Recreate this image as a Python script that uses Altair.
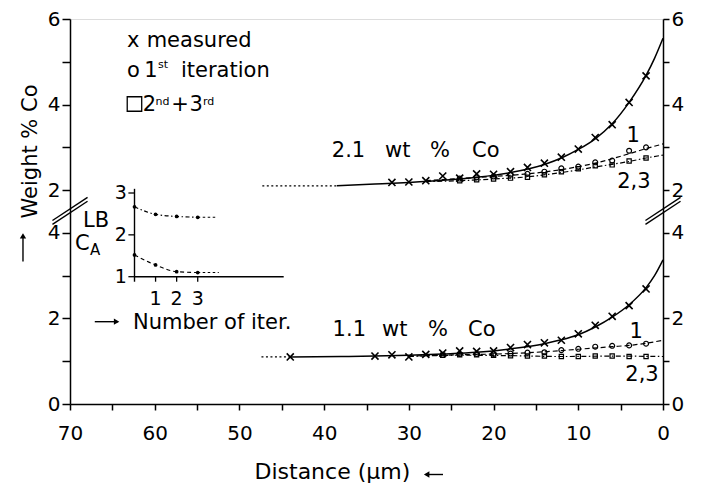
import json
import altair as alt
import pandas as pd

FONT = "DejaVu Sans"
BREAK = 3.0  # the upper profile (2..6 wt%) sits 3 units above the lower one on the broken axis

# ---------------- upper profile: 2.1 wt % Co ----------------
up_meas_d = [32, 30, 28, 26, 24, 22, 20, 18, 16, 14, 12, 10, 8, 6, 4, 2]
up_meas_w = [2.18, 2.19, 2.22, 2.33, 2.28, 2.38, 2.37, 2.43, 2.53, 2.63, 2.77, 2.96, 3.23, 3.53, 4.05, 4.67]
up_fit_d = [38.5, 34, 30, 26, 22, 18, 14, 12, 10, 8, 6, 4, 2, 1, 0]
up_fit_w = [2.10, 2.14, 2.18, 2.23, 2.30, 2.41, 2.60, 2.75, 2.95, 3.20, 3.55, 4.05, 4.68, 5.08, 5.55]
up_ext_d = [47.3, 38.5]
up_ext_w = [2.10, 2.10]
up_it1_d = [24, 22, 20, 18, 16, 14, 12, 10, 8, 6, 4, 2]
up_it1_w = [2.27, 2.30, 2.32, 2.36, 2.38, 2.43, 2.51, 2.55, 2.65, 2.69, 2.92, 3.00]
up_it1_fit_d = [28, 24, 20, 16, 12, 8, 4, 2, 0]
up_it1_fit_w = [2.22, 2.27, 2.32, 2.38, 2.48, 2.63, 2.85, 2.97, 3.08]
up_it23_d = [24, 22, 20, 18, 16, 14, 12, 10, 8, 6, 4, 2]
up_it23_w = [2.22, 2.24, 2.26, 2.28, 2.30, 2.36, 2.43, 2.50, 2.57, 2.59, 2.68, 2.75]
up_it23_fit_d = [28, 24, 20, 16, 12, 8, 4, 2, 0]
up_it23_fit_w = [2.20, 2.22, 2.26, 2.31, 2.41, 2.54, 2.67, 2.75, 2.82]

# ---------------- lower profile: 1.1 wt % Co ----------------
lo_meas_d = [44, 34, 32, 30, 28, 26, 24, 22, 20, 18, 16, 14, 12, 10, 8, 6, 4, 2]
lo_meas_w = [1.10, 1.12, 1.15, 1.10, 1.16, 1.19, 1.24, 1.23, 1.24, 1.32, 1.39, 1.43, 1.49, 1.64, 1.84, 2.05, 2.30, 2.69]
lo_fit_d = [44, 38, 34, 30, 26, 22, 18, 14, 12, 10, 8, 6, 4, 2, 1, 0]
lo_fit_w = [1.10, 1.11, 1.12, 1.14, 1.17, 1.21, 1.29, 1.41, 1.50, 1.62, 1.80, 2.03, 2.32, 2.72, 3.00, 3.37]
lo_ext_d = [47.4, 44]
lo_ext_w = [1.10, 1.10]
lo_it1_d = [26, 24, 22, 20, 18, 16, 14, 12, 10, 8, 6, 4, 2]
lo_it1_w = [1.15, 1.17, 1.17, 1.17, 1.18, 1.20, 1.21, 1.26, 1.29, 1.34, 1.36, 1.37, 1.41]
lo_it1_fit_d = [30, 24, 18, 14, 10, 6, 4, 2, 0]
lo_it1_fit_w = [1.12, 1.15, 1.18, 1.22, 1.28, 1.34, 1.37, 1.42, 1.49]
lo_it23_d = [26, 24, 22, 20, 18, 16, 14, 12, 10, 8, 6, 4, 2]
lo_it23_w = [1.14, 1.15, 1.15, 1.14, 1.13, 1.12, 1.12, 1.11, 1.11, 1.12, 1.12, 1.11, 1.11]
lo_it23_fit_d = [30, 24, 18, 12, 6, 0]
lo_it23_fit_w = [1.11, 1.14, 1.13, 1.11, 1.12, 1.11]

# ---------------- inset: convergence vs number of iterations ----------------
iters = [0, 1, 2, 3]
inset_lb = [2.67, 2.49, 2.44, 2.42]
inset_ca = [1.52, 1.28, 1.12, 1.10]
inset_lb_tail = [3, 3.9]
inset_ca_tail = [3, 4.0]
inset_y_ticks = [1, 2, 3]
inset_x_ticks = [1, 2, 3]

# ---------------- axis ticks ----------------
y_tick_pos = list(range(10))
y_tick_labels = ["0", "", "2", "", "4", "2", "", "4", "", "6"]
x_ticks = [70, 65, 60, 55, 50, 45, 40, 35, 30, 25, 20, 15, 10, 5, 0]


def xs():
    return alt.Scale(domain=[70, 0], nice=False, zero=False)


def ys():
    return alt.Scale(domain=[0, 9], nice=False, zero=False)


def xi():
    return alt.Scale(domain=[-3.061, 25.08], nice=False, zero=False)


def yi():
    return alt.Scale(domain=[-2.042, 7.158], nice=False, zero=False)


def df_up(ds, ws):
    return pd.DataFrame({"d": ds, "c": [w + BREAK for w in ws]})


def df_lo(ds, ws):
    return pd.DataFrame({"d": ds, "c": ws})


def XM(f="d"):
    return alt.X(f"{f}:Q", scale=xs(), axis=None)


def YM(f="c"):
    return alt.Y(f"{f}:Q", scale=ys(), axis=None)


def XI(f="x"):
    return alt.X(f"{f}:Q", scale=xi(), axis=None)


def YI(f="y"):
    return alt.Y(f"{f}:Q", scale=yi(), axis=None)


def line(df, dash=None, width=1.3, x=None, y=None):
    kw = dict(color="black", strokeWidth=width, interpolate="monotone")
    if dash:
        kw["strokeDash"] = dash
    return alt.Chart(df).mark_line(**kw).encode(x=x or XM(), y=y or YM())


X_MARK = "M-1,-1L1,1M1,-1L-1,1"


def pts(df, shape, size, sw=1.2, filled=False, x=None, y=None):
    return alt.Chart(df).mark_point(shape=shape, size=size, filled=filled, color="black",
                                    strokeWidth=sw, opacity=1).encode(x=x or XM(), y=y or YM())


def texts(rows, size, sx, sy, align="left", baseline="alphabetic"):
    df = pd.DataFrame(rows, columns=["t", "x", "y"])
    return alt.Chart(df).mark_text(font=FONT, fontSize=size, align=align, baseline=baseline,
                                   color="black").encode(
        x=alt.X("x:Q", scale=sx, axis=None), y=alt.Y("y:Q", scale=sy, axis=None), text="t:N")


def rules(rows, sx, sy, width=1.3):
    df = pd.DataFrame(rows, columns=["x", "y", "x2", "y2"])
    return alt.Chart(df).mark_rule(color="black", strokeWidth=width).encode(
        x=alt.X("x:Q", scale=sx, axis=None), y=alt.Y("y:Q", scale=sy, axis=None), x2="x2:Q", y2="y2:Q")


ax_common = dict(domainColor="black", domainWidth=1.5, tickColor="black", tickWidth=1.5,
                 labelColor="black", labelFont=FONT, labelFontSize=20, grid=False,
                 labelOverlap=False, labelFlush=False)
label_expr = json.dumps(y_tick_labels).replace('"', "'") + "[datum.value]"

x_axis = alt.Axis(orient="bottom", values=x_ticks,
                  labelExpr="datum.value % 10 == 0 ? datum.label : ''",
                  tickSize=6, labelPadding=13,
                  title="Distance (μm)", titleFont=FONT, titleFontSize=22, titleFontWeight="normal",
                  titleColor="black", titleAlign="left", titleBaseline="alphabetic",
                  titleX=184, titleY=74, **ax_common)
y_left = alt.Axis(orient="left", values=y_tick_pos, labelExpr=label_expr, tickSize=8, labelPadding=2,
                  title="Weight % Co", titleFont=FONT, titleFontSize=21, titleFontWeight="normal",
                  titleColor="black", titleAngle=270, titleAlign="center", titleBaseline="alphabetic",
                  titleX=-34, titleY=132, **ax_common)
y_right = alt.Axis(orient="right", values=y_tick_pos, labelExpr=label_expr, tickSize=6, labelPadding=2,
                   title="", **ax_common)

layers = []
# axis carriers
layers.append(line(df_up(up_fit_d, up_fit_w), width=1.5,
                   x=alt.X("d:Q", scale=xs(), axis=x_axis), y=alt.Y("c:Q", scale=ys(), axis=y_left)))
layers.append(line(df_lo(lo_fit_d, lo_fit_w), width=1.5,
                   x=XM(), y=alt.Y("c:Q", scale=ys(), axis=y_right)))

layers += [
    line(df_up(up_ext_d, up_ext_w), dash=[2, 2.5], width=1.2),
    line(df_lo(lo_ext_d, lo_ext_w), dash=[2, 2.5], width=1.2),
    line(df_up(up_it1_fit_d, up_it1_fit_w), dash=[5, 3], width=1.2),
    line(df_up(up_it23_fit_d, up_it23_fit_w), dash=[5, 2.5, 1.5, 2.5], width=1.2),
    line(df_lo(lo_it1_fit_d, lo_it1_fit_w), dash=[5, 3], width=1.2),
    line(df_lo(lo_it23_fit_d, lo_it23_fit_w), dash=[5, 2.5, 1.5, 2.5], width=1.2),
    pts(df_up(up_meas_d, up_meas_w), X_MARK, 50, sw=1.6),
    pts(df_lo(lo_meas_d, lo_meas_w), X_MARK, 50, sw=1.6),
    pts(df_up(up_it1_d, up_it1_w), "circle", 24),
    pts(df_lo(lo_it1_d, lo_it1_w), "circle", 24),
    pts(df_up(up_it23_d, up_it23_w), "square", 18),
    pts(df_lo(lo_it23_d, lo_it23_w), "square", 18),
]

# axis-break slashes on both vertical axes
slash = []
for ax_d in (70, 0):
    for cc in (4.47, 4.56):
        slash.append((ax_d + 2.07, cc - 0.27, ax_d - 2.07, cc + 0.27))
layers.append(rules(slash, xs(), ys(), width=1.4))

# legend and curve labels (distance, composite weight)
layers.append(texts([
    ("x", 63.27, 8.357), ("measured", 60.95, 8.357),
    ("o", 63.27, 7.649), ("1", 61.25, 7.649), ("iteration", 56.9, 7.649),
    ("2", 61.4, 6.845), ("+", 58.05, 6.845), ("3", 55.9, 6.845),
    ("2.1", 39.1, 5.785), ("wt", 32.81, 5.785), ("%", 27.5, 5.785), ("Co", 22.54, 5.785),
    ("1.1", 39.0, 1.585), ("wt", 33.17, 1.585), ("%", 27.74, 1.585), ("Co", 23.02, 1.585),
    ("1", 4.3, 6.136), ("2,3", 5.4, 5.06),
    ("1", 3.95, 1.554), ("2,3", 4.45, 0.549),
], 21, xs(), ys()))
layers.append(texts([("st", 59.6, 7.86), ("nd", 59.9, 7.0), ("rd", 54.3, 7.0)], 11, xs(), ys()))
layers.append(pts(pd.DataFrame({"d": [62.39], "c": [7.013]}), "square", 210, sw=1.3))

# arrows next to the axis titles
layers.append(rules([(75.55, 3.33, 75.55, 3.95), (28.0, -1.648, 25.97, -1.648)], xs(), ys(), width=1.4))
layers.append(pts(pd.DataFrame({"d": [75.55], "c": [3.93]}), "triangle-up", 40, filled=True))
layers.append(pts(pd.DataFrame({"d": [27.9], "c": [-1.648]}), "triangle-left", 40, filled=True))

# ---------------- inset ----------------
lb_df = pd.DataFrame({"x": iters, "y": inset_lb})
ca_df = pd.DataFrame({"x": iters, "y": inset_ca})
lb_tail = pd.DataFrame({"x": inset_lb_tail, "y": [inset_lb[-1]] * 2})
ca_tail = pd.DataFrame({"x": inset_ca_tail, "y": [inset_ca[-1]] * 2})

layers += [
    rules([(0, 0.88, 0, 3.1), (0, 1, 7.08, 1)], xi(), yi(), width=1.4),
    rules([(-0.29, v, 0, v) for v in inset_y_ticks], xi(), yi(), width=1.3),
    rules([(t, 1, t, 0.88) for t in inset_x_ticks], xi(), yi(), width=1.3),
    line(lb_df, dash=[4, 2.5, 1.5, 2.5], width=1.1, x=XI(), y=YI()),
    line(ca_df, dash=[4, 3], width=1.1, x=XI(), y=YI()),
    line(lb_tail, dash=[2.5, 2.5], width=1.1, x=XI(), y=YI()),
    line(ca_tail, dash=[2.5, 2.5], width=1.1, x=XI(), y=YI()),
    pts(pd.concat([lb_df, ca_df]), "circle", 14, filled=True, x=XI(), y=YI()),
    texts([(str(v), -0.36, v) for v in inset_y_ticks], 19, xi(), yi(), align="right", baseline="middle"),
    texts([(str(t), t, 0.324) for t in inset_x_ticks], 19, xi(), yi(), align="center"),
    texts([("LB", -2.44, 2.195), ("C", -2.82, 1.638), ("Number of iter.", -0.07, -0.25)], 21, xi(), yi()),
    texts([("A", -2.11, 1.52)], 15, xi(), yi()),
    rules([(-1.885, -0.075, -0.8, -0.075)], xi(), yi(), width=1.4),
    pts(pd.DataFrame({"x": [-0.85], "y": [-0.075]}), "triangle-right", 40, filled=True, x=XI(), y=YI()),
]

chart = alt.layer(*layers).resolve_scale(x="independent", y="independent").properties(
    width=593, height=385,
    autosize=alt.AutoSizeParams(type="none"),
    padding={"left": 70, "top": 19, "right": 39, "bottom": 81},
    background="white",
).configure_view(strokeWidth=0).configure(font=FONT)

chart.save("out.html", embed_options={"renderer": "svg", "actions": False})
